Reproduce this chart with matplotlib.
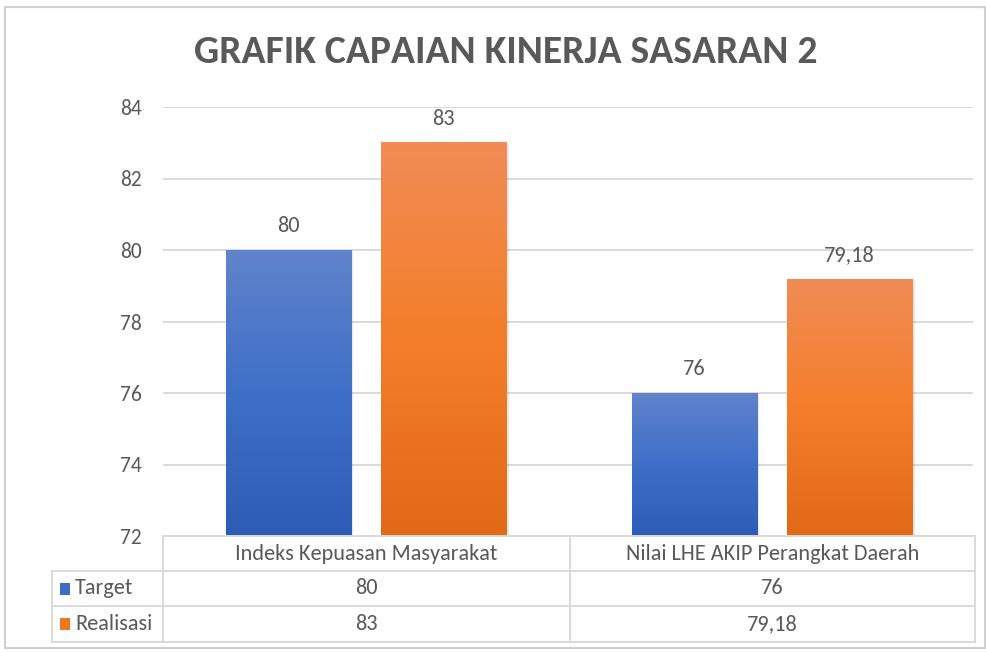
import matplotlib
matplotlib.use("Agg")
import matplotlib.pyplot as plt
import numpy as np
from matplotlib.colors import LinearSegmentedColormap
from matplotlib.lines import Line2D
from matplotlib.patches import Rectangle

categories = ["Indeks Kepuasan Masyarakat", "Nilai LHE AKIP Perangkat Daerah"]
series_names = ["Target", "Realisasi"]
target = [80, 76]
realisasi = [83, 79.18]
y_ticks = [72, 74, 76, 78, 80, 82, 84]
title = "GRAFIK CAPAIAN KINERJA SASARAN 2"

def fmt(v):
    s = ("%g" % v)
    return s.replace(".", ",")

plt.rcParams['font.family'] = ['Carlito', 'Liberation Sans Narrow', 'DejaVu Sans']
txt = "#595959"
grid = "#d9d9d9"

W, H = 987, 652
fig = plt.figure(figsize=(W/100, H/100), dpi=100)

def fx(px): return px / W
def fy(py): return 1 - py / H

# outer border
fig.add_artist(Rectangle((fx(5), fy(648)), fx(980), (641)/H, transform=fig.transFigure,
                         fill=False, edgecolor="#d0d0d0", lw=1.5))

ax_l, ax_r, ax_t, ax_b = 163, 973, 107, 536
ax = fig.add_axes([fx(ax_l), fy(ax_b), (ax_r-ax_l)/W, (ax_b-ax_t)/H])
x_left, x_right = -0.5, 1.495
for s in ax.spines.values():
    s.set_visible(False)
ax.set_xticks([])
ax.set_yticks(y_ticks)
ax.tick_params(axis='y', length=0, pad=15, labelsize=15.5, labelcolor=txt)
for t in y_ticks[1:]:
    ax.axhline(t, color=grid, lw=1.4, zorder=0)

blue_cmap = LinearSegmentedColormap.from_list("b", ["#2d5cb7", "#3e6fc8", "#6183cb"])
orange_cmap = LinearSegmentedColormap.from_list("o", ["#e26915", "#f47e2a", "#f08c55"])
grad = np.linspace(0, 1, 256).reshape(-1, 1)

bw = 0.308
off = 0.191
x = np.arange(len(categories))
for vals, cmap, sgn in [(target, blue_cmap, -1), (realisasi, orange_cmap, 1)]:
    for xi, v in zip(x, vals):
        l = xi + sgn*off - bw/2
        ax.add_patch(Rectangle((l+0.006, 72), bw, v-72-0.03, facecolor="#00000018", edgecolor="none", zorder=1))
        ax.imshow(grad, extent=(l, l+bw, 72, v), origin='lower', cmap=cmap, aspect='auto', zorder=2)
        ax.text(xi + sgn*off, v + 0.67, fmt(v), ha='center', va='center', fontsize=16, color=txt, zorder=3)
ax.set_xlim(x_left, x_right)
ax.set_ylim(72, 84)

# data table
rows = [536, 571, 606, 642]
cols = [52, 163, 570, 975]
def hline(y, x0, x1):
    fig.add_artist(Line2D([fx(x0), fx(x1)], [fy(y), fy(y)], color=grid, lw=1.4, transform=fig.transFigure))
def vline(x0, y0, y1):
    fig.add_artist(Line2D([fx(x0), fx(x0)], [fy(y0), fy(y1)], color=grid, lw=1.4, transform=fig.transFigure))

hline(rows[0], cols[1], cols[3])
for r in rows[1:]:
    hline(r, cols[0], cols[3])
vline(cols[0], rows[1], rows[3])
vline(cols[1], rows[0], rows[3])
vline(cols[2], rows[0], rows[3])
vline(cols[3], rows[0], rows[3])

for i, c in enumerate(categories):
    fig.text(fx((cols[i+1]+cols[i+2])/2), fy((rows[0]+rows[1])/2), c, ha='center', va='center',
             fontsize=16, color=txt)
colors = ["#3d6cc4", "#ee7625"]
for r, (name, vals, col) in enumerate(zip(series_names, [target, realisasi], colors)):
    yc = (rows[r+1]+rows[r+2])/2
    fig.add_artist(Rectangle((fx(60), fy(yc+6)), 10/W, 12/H, transform=fig.transFigure,
                             facecolor=col, edgecolor='none'))
    fig.text(fx(75), fy(yc), name, ha='left', va='center', fontsize=16, color=txt)
    for i, v in enumerate(vals):
        fig.text(fx((cols[i+1]+cols[i+2])/2), fy(yc), fmt(v), ha='center', va='center',
                 fontsize=16, color=txt)

fig.text(fx(506), fy(52), title, ha='center', va='center', fontsize=28.5, fontweight='bold', color=txt)

fig.savefig("out.png", dpi=100)
